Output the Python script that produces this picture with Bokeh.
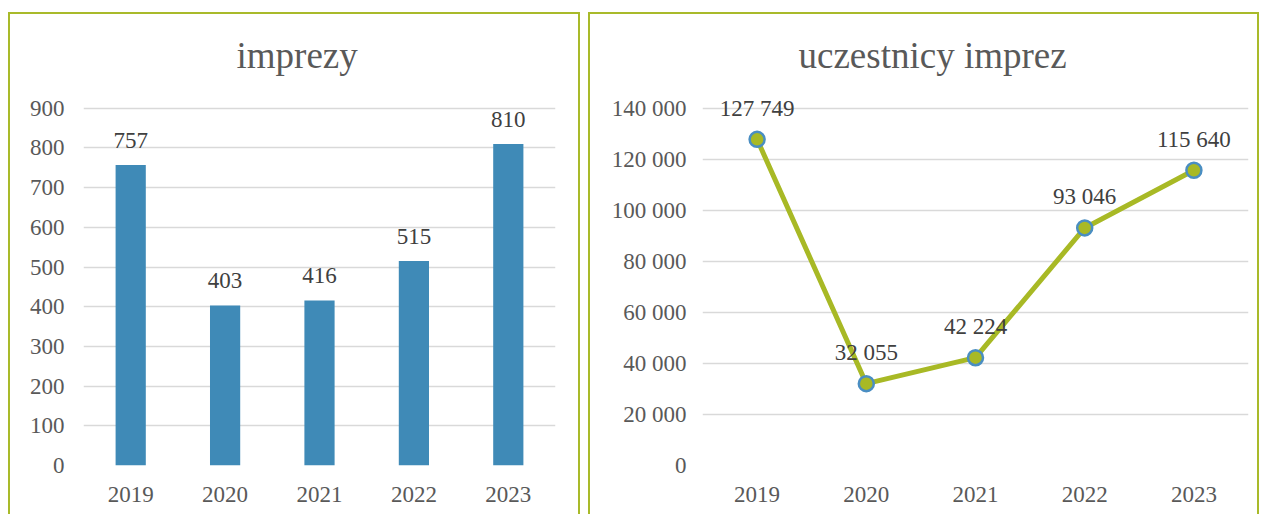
from bokeh.plotting import figure
from bokeh.models import FactorRange, FixedTicker, ColumnDataSource, Range1d, LabelSet
from bokeh.layouts import row
from bokeh.embed import file_html
from bokeh.resources import INLINE

years = ["2019", "2020", "2021", "2022", "2023"]
events = [757, 403, 416, 515, 810]
participants = [127749, 32055, 42224, 93046, 115640]
left_title = "imprezy"
right_title = "uczestnicy imprez"
left_ticks = [0, 100, 200, 300, 400, 500, 600, 700, 800, 900]
right_ticks = [0, 20000, 40000, 60000, 80000, 100000, 120000, 140000]

FONT = "Liberation Serif"
BORDER = "#A9BA2A"


def fmt(v):
    return f"{v:,}".replace(",", " ")


def style(p, ticks, ystand):
    p.xgrid.grid_line_color = None
    p.ygrid.grid_line_color = "#D9D9D9"
    p.ygrid.grid_line_width = 1.5
    p.yaxis.ticker = FixedTicker(ticks=ticks)
    p.yaxis.major_label_overrides = {t: fmt(t) for t in ticks}
    for ax in (p.xaxis[0], p.yaxis[0]):
        ax.axis_line_color = None
        ax.major_tick_line_color = None
        ax.minor_tick_line_color = None
        ax.major_label_text_font = FONT
        ax.major_label_text_font_style = "normal"
        ax.major_label_text_font_size = "23px"
        ax.major_label_text_color = "#595959"
    p.yaxis[0].major_label_standoff = ystand
    p.xaxis[0].major_label_standoff = 15
    p.outline_line_color = None
    p.title.text_font = FONT
    p.title.text_font_size = "37px"
    p.title.text_font_style = "normal"
    p.title.text_color = "#595959"
    p.title.align = "left"
    p.title.standoff = 14


border_styles = {
    "border-top": f"2px solid {BORDER}",
    "border-left": f"2px solid {BORDER}",
    "border-right": f"2px solid {BORDER}",
}

# Left: bar chart
src1 = ColumnDataSource(dict(x=years, y=events, lab=[fmt(v) for v in events]))
p1 = figure(x_range=FactorRange(*years), y_range=Range1d(0, 965),
            width=572, height=502, output_backend="svg", toolbar_location=None,
            min_border_left=73, min_border_right=27, min_border_top=68, min_border_bottom=51,
            title=left_title, margin=(12, 8, 0, 8), styles=border_styles)
p1.x_range.range_padding = 0
p1.vbar(x="x", top="y", width=0.32, source=src1, fill_color="#3F8AB7", line_color=None)
p1.add_layout(LabelSet(x="x", y="y", text="lab", source=src1, text_align="center",
                       text_baseline="middle", y_offset=25, text_font=FONT,
                       text_font_style="normal",
                       text_font_size="23px", text_color="#404040"))
style(p1, left_ticks, 13)
p1.title.offset = 153

# Right: line chart
src2 = ColumnDataSource(dict(x=years, y=participants, lab=[fmt(v) for v in participants]))
p2 = figure(x_range=FactorRange(*years), y_range=Range1d(0, 150000),
            width=671, height=502, output_backend="svg", toolbar_location=None,
            min_border_left=112, min_border_right=13, min_border_top=68, min_border_bottom=51,
            title=right_title, margin=(12, 0, 0, 0), styles=border_styles)
p2.x_range.range_padding = 0
p2.line(x="x", y="y", source=src2, line_color="#A8B925", line_width=5)
p2.scatter(x="x", y="y", source=src2, size=15, fill_color="#A8B925",
           line_color="#4A8EC2", line_width=2.5)
p2.add_layout(LabelSet(x="x", y="y", text="lab", source=src2, text_align="center",
                       text_baseline="middle", y_offset=31, text_font=FONT,
                       text_font_style="normal",
                       text_font_size="23px", text_color="#404040"))
style(p2, right_ticks, 10)
p2.title.offset = 96

layout = row(p1, p2)
open("out.html", "w").write(file_html(layout, INLINE))
